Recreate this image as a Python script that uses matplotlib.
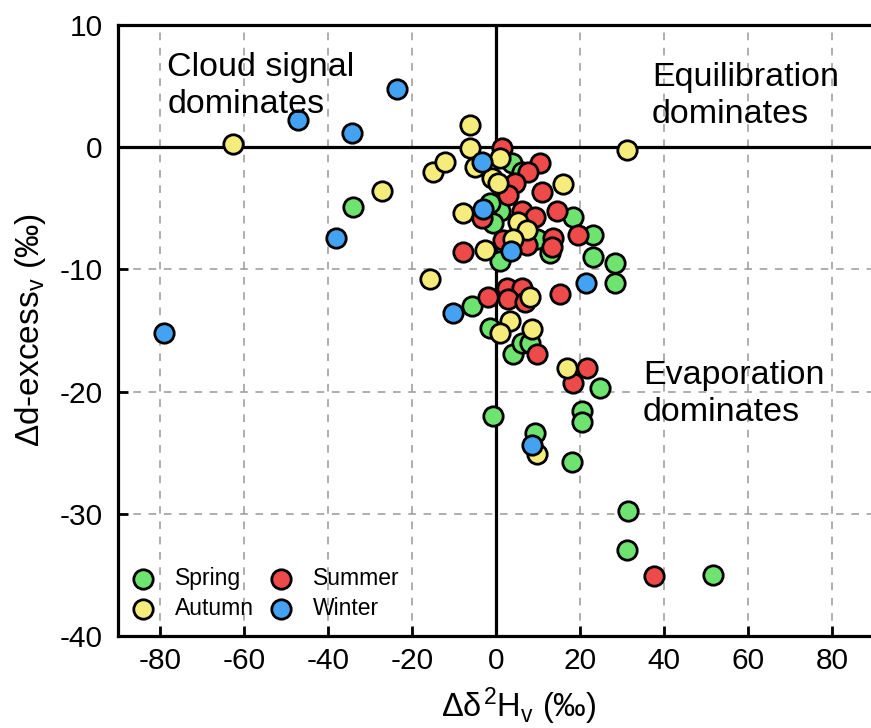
import numpy as np
import matplotlib
matplotlib.use('Agg')
import matplotlib.pyplot as plt

plt.rcParams['font.family'] = ['Liberation Sans', 'DejaVu Sans']
plt.rcParams['mathtext.fontset'] = 'custom'
plt.rcParams['mathtext.rm'] = 'Liberation Sans'
plt.rcParams['mathtext.it'] = 'Liberation Sans'
plt.rcParams['axes.unicode_minus'] = False

# values (delta d2H_v, delta d-excess_v)
spring_x = [-34.0, -5.7, -1.4, 4.0, 6.2, 8.1, 9.3, -0.7, 18.1, 20.5, 20.5, 24.8, 28.3, 18.3,
            23.1, 23.1, 28.3, 12.9, 3.8, 1.0, -1.4, -0.7, 9.8, 1.0, 31.4, 31.2, 51.7, 6.2]
spring_y = [-4.9, -13.0, -14.8, -16.9, -16.0, -16.0, -23.4, -22.0, -25.8, -21.6, -22.5, -19.7, -11.1, -5.7,
            -7.2, -9.0, -9.5, -8.7, -1.3, -5.2, -4.6, -6.2, -7.5, -9.3, -29.8, -33.0, -35.0, -2.0]

summer_x = [1.4, 10.5, 7.6, 4.5, 2.9, 11.0, 14.5, 6.2, 9.3, -3.3, 19.5, 13.6, 13.3, 7.4,
            1.7, -7.9, 15.2, 2.6, 6.2, -1.9, 2.9, 6.9, 21.7, 18.3, 9.8, 37.6]
summer_y = [-0.1, -1.3, -2.0, -2.9, -3.9, -3.7, -5.2, -5.2, -5.7, -5.8, -7.2, -7.4, -8.2, -8.0,
            -7.6, -8.6, -12.0, -11.5, -11.5, -12.3, -12.4, -12.7, -18.1, -19.3, -16.9, -35.1]

autumn_x = [-62.6, -27.1, -15.7, -15.0, -12.1, -6.2, -6.2, -5.0, 1.0, -1.0, 0.5, 16.0, 31.2,
            -7.9, 5.2, 7.4, 4.0, -2.6, 8.1, 3.3, 1.0, 8.6, 9.8, 16.9]
autumn_y = [0.3, -3.6, -10.8, -2.0, -1.2, 1.8, -0.1, -1.6, -0.9, -2.5, -2.9, -3.0, -0.2,
            -5.4, -6.1, -6.8, -7.5, -8.4, -12.3, -14.2, -15.2, -14.9, -25.1, -18.1]

winter_x = [-79.0, -47.1, -34.3, -23.6, -38.1, -10.2, -3.3, -3.1, 3.6, 21.4, 8.6]
winter_y = [-15.2, 2.2, 1.15, 4.75, -7.4, -13.6, -1.2, -5.1, -8.5, -11.1, -24.4]

fig = plt.figure(figsize=(8.71, 7.28), dpi=100)
ax = fig.add_axes([0.1355, 0.1264, 0.868, 0.8393])

# grid + zero lines
for gx in [-80, -60, -40, -20, 20, 40, 60, 80]:
    ax.axvline(gx, color='#999999', lw=1.1, ls=(0, (5, 5)), zorder=0)
for gy in [-30, -20, -10]:
    ax.axhline(gy, color='#999999', lw=1.1, ls=(0, (5, 5)), zorder=0)
ax.axhline(0, color='black', lw=2.3, zorder=1)
ax.axvline(0, color='black', lw=2.3, zorder=1)

kw = dict(s=195, edgecolors='black', linewidths=2.0, zorder=3)
ax.scatter(spring_x, spring_y, c='#6fe36f', label='Spring', **kw)
ax.scatter(summer_x, summer_y, c='#ee4a4a', label='Summer', **kw)
ax.scatter(autumn_x, autumn_y, c='#f6ec7c', label='Autumn', **kw)
ax.scatter(winter_x, winter_y, c='#44a2f2', label='Winter', **kw)

ax.set_xlim(-90, 90)
ax.set_ylim(-40, 10)
ax.set_xticks([-80, -60, -40, -20, 0, 20, 40, 60, 80])
ax.set_yticks([-40, -30, -20, -10, 0, 10])
ax.tick_params(direction='in', length=7, width=2, labelsize=21.5)
ax.tick_params(axis='x', pad=8)
ax.tick_params(axis='y', pad=11)
for side in ['left', 'bottom', 'top']:
    ax.spines[side].set_linewidth(2.3)
ax.spines['right'].set_visible(False)

ax.set_xlabel(r'$\Delta\delta^2$H$_\mathregular{v}$ (‰)', fontsize=23.5, va='top')
ax.set_ylabel(r'$\Delta$d-excess$_\mathregular{v}$ (‰)', fontsize=24)
ax.xaxis.set_label_coords(0.53, -0.081)
ax.yaxis.set_label_coords(-0.092, 0.5)

ax.text(-78.3, 2.8, 'Cloud signal\ndominates', fontsize=24.5, va='baseline', linespacing=1.24)
ax.text(37.1, 2.0, 'Equilibration\ndominates', fontsize=24.5, va='baseline', linespacing=1.24)
ax.text(35.0, -22.4, 'Evaporation\ndominates', fontsize=24.5, va='baseline', linespacing=1.24)

h, l = ax.get_legend_handles_labels()
order = [0, 2, 1, 3]
ax.legend([h[i] for i in order], [l[i] for i in order], ncol=2, frameon=False,
          loc='lower left', bbox_to_anchor=(-0.009, -0.008), fontsize=16.5,
          handlelength=1.0, handletextpad=0.9, columnspacing=0.65,
          labelspacing=0.3, markerscale=1.0)

fig.savefig('out.png', dpi=100)
